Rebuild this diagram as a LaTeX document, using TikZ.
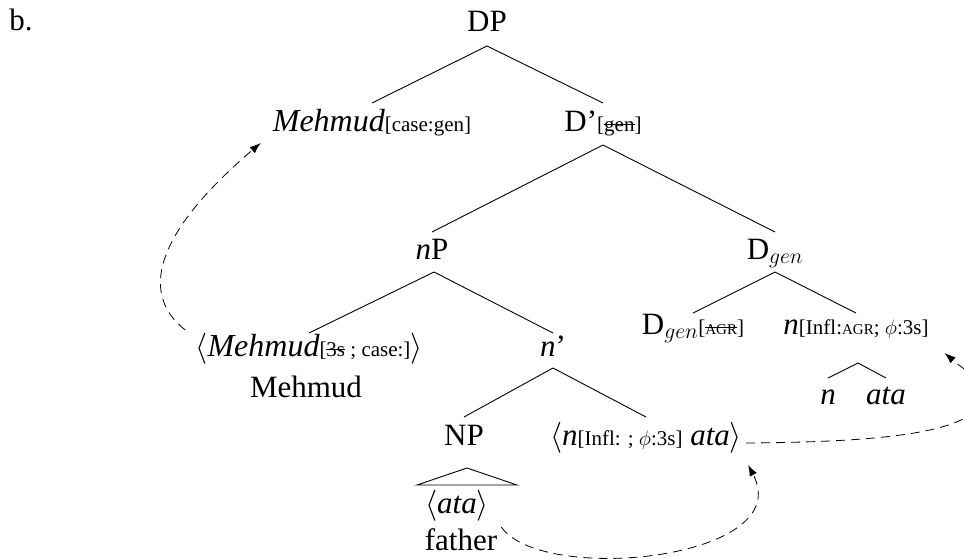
\RequirePackage{fix-cm}
\documentclass[tikz,border=0pt]{standalone}
\usepackage{fontspec}
\setmainfont{Liberation Serif}
\usetikzlibrary{arrows.meta,calc}
\newcommand\mainsz{\fontsize{31}{34}\selectfont}
\newcommand\subsz[1]{{\fontsize{21}{23}\selectfont #1}}
\newcommand\agr{{\fontsize{15}{16}\selectfont AGR}}
\newcommand\bigit[1]{{\fontsize{32}{34}\selectfont\itshape #1}}
\newcommand\strk[1]{\leavevmode\setbox0\hbox{#1}\rlap{\rule[0.27em]{\wd0}{0.05em}}\box0}
\begin{document}
\begin{tikzpicture}[x=1pt,y=-1pt,
  every node/.style={font=\mainsz, inner sep=0pt, anchor=base},
  branch/.style={line width=0.9pt},
  mv/.style={line width=0.8pt, dash pattern=on 9pt off 6pt, -{Latex[length=11pt,width=8pt]}}]
\useasboundingbox (0,0) rectangle (964,558);
\clip (0,0) rectangle (964,558);
% nodes
\node (lbl) at (21,30) {b.};
\node (DP) at (487,31) {DP};
\node (MehA) at (372,131) {\bigit{Mehmud}\subsz{[case:gen]}};
\node (Dbar) at (603,131) {D'\subsz{[\strk{gen}]}};
\node (nP) at (432,259) {\textit{n}P};
\node (Dgen) at (775,259) {D$_{gen}$};
\node (MehB) at (309,356) {$\langle$\bigit{Mehmud}\subsz{[\strk{3s}\ ; case:]}$\rangle$};
\node (MehGl) at (306,397) {Mehmud};
\node (nbar) at (553,356) {\textit{n}'};
\node (DgenAGR) at (693,334) {D$_{gen}$\subsz{[\strk{\agr}]}};
\node (nInfl) at (856,334) {\textit{n}\subsz{[Infl:\agr; $\phi$:3s]}};
\node (nS) at (828,404) {\textit{n}};
\node (ataS) at (886,404) {\textit{ata}};
\node (NP) at (464,445) {NP};
\node (nata) at (646,445) {$\langle$\textit{n}\subsz{[Infl: ; $\phi$:3s]} \textit{ata}$\rangle$};
\node (ataB) at (457,513) {$\langle$\textit{ata}$\rangle$};
\node (father) at (461,550) {father};
% branches
\draw[branch] ($(DP.base)+(0,15)$) -- ($(MehA.base)+(0,-28)$);
\draw[branch] ($(DP.base)+(0,15)$) -- ($(Dbar.base)+(0,-28)$);
\draw[branch] ($(Dbar.base)+(0,14)$) -- ($(nP.base)+(0,-27)$);
\draw[branch] ($(Dbar.base)+(0,14)$) -- ($(Dgen.base)+(0,-27)$);
\draw[branch] ($(nP.base)+(2,13)$) -- ($(MehB.base)+(0,-23)$);
\draw[branch] ($(nP.base)+(2,13)$) -- ($(nbar.base)+(0,-23)$);
\draw[branch] ($(Dgen.base)+(0,13)$) -- ($(DgenAGR.base)+(0,-21)$);
\draw[branch] ($(Dgen.base)+(0,13)$) -- ($(nInfl.base)+(0,-21)$);
\draw[branch] ($(nInfl.base)+(2,29)$) -- ($(nS.base)+(0,-26)$);
\draw[branch] ($(nInfl.base)+(2,29)$) -- ($(ataS.base)+(0,-26)$);
\draw[branch] ($(nbar.base)+(0,12)$) -- ($(NP.base)+(0,-28)$);
\draw[branch] ($(nbar.base)+(0,12)$) -- ($(nata.base)+(0,-28)$);
\draw[branch] ($(NP.base)+(3,23)$) -- ($(NP.base)+(-47,40)$) -- ($(NP.base)+(53,40)$) -- cycle;
% movement arrows
\draw[mv] ($(MehB.base west)+(-10,-26)$) .. controls +(-45,-35) and +(-108,92) .. ($(MehA.base west)+(-12,12)$);
\draw[mv] ($(father.base east)+(4,-23)$) .. controls +(40,58) and +(50,95) .. ($(nata.base east)+(6,20)$);
\coordinate (turn) at ($(nata.base east)+(240,-45)$);
\draw[mv] ($(nata.base east)+(4,-2)$) .. controls +(153,-1) and +(-10,30) .. (turn)
  .. controls +(8,-15) and +(17,15) .. ($(nInfl.base east)+(16,19)$);
\end{tikzpicture}
\end{document}
